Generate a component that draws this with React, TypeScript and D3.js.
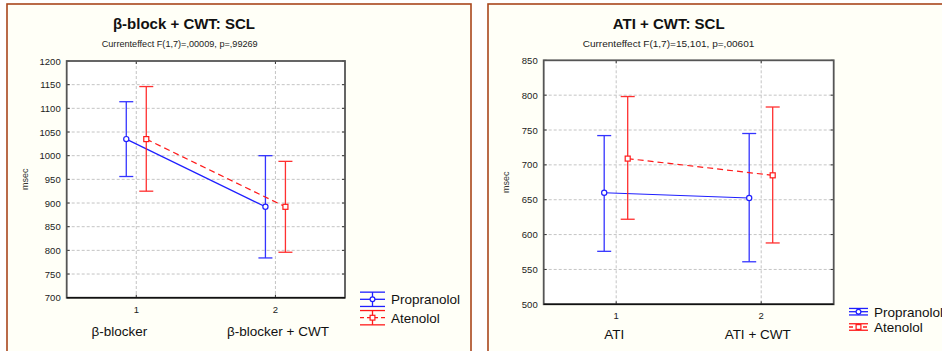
import * as d3 from 'd3';

// left chart: beta-blocker vs beta-blocker + CWT
const sclCategories = ['β-blocker', 'β-blocker + CWT'];
const sclPropMean = [1035, 892];
const sclPropLow = [956, 784];
const sclPropHigh = [1114, 1000];
const sclAtenMean = [1035, 892];
const sclAtenLow = [925, 796];
const sclAtenHigh = [1146, 988];

// right chart: ATI vs ATI + CWT
const atiCategories = ['ATI', 'ATI + CWT'];
const atiPropMean = [660, 652.5];
const atiPropLow = [576, 561];
const atiPropHigh = [742, 745];
const atiAtenMean = [709, 685];
const atiAtenLow = [622, 588];
const atiAtenHigh = [798, 783];

const seriesNames = ['Propranolol', 'Atenolol'];
const BLUE = '#1f1fff';
const RED = '#ff1a1a';
const FONT = 'Liberation Sans, Arial, sans-serif';

type Series = { mean: number[]; low: number[]; high: number[] };

type PanelProps = {
  box: [number, number, number]; // left, top, width of panel border
  plot: { x0: number; x1: number; y0: number; y1: number };
  yDomain: [number, number];
  title: string;
  titleX: number;
  subtitle: string;
  subtitleX: number;
  subtitleWidth: number;
  categories: string[];
  catShift: [number, number];
  prop: Series;
  aten: Series;
  offsets: [number, number];
  tickY: number;
  catY: number;
  yLabelX: number;
  legend: { x: number; y: number; gap: number; h: number; w: number };
};

const Panel = (p: PanelProps) => {
  const { x0, x1, y0, y1 } = p.plot;
  const x = d3.scaleLinear().domain([0.5, 2.5]).range([x0, x1]);
  const y = d3.scaleLinear().domain(p.yDomain).range([y1, y0]);
  const yTicks = d3.range(p.yDomain[0], p.yDomain[1] + 1, 50);
  const idx = [1, 2];
  const cap = 7;

  const drawSeries = (s: Series, color: string, off: number, square: boolean) => {
    const pts = s.mean.map((m, i) => [x(idx[i]) + off, y(m)] as [number, number]);
    return (
      <g>
        <path
          d={d3.line()(pts) || ''}
          fill="none"
          stroke={color}
          strokeWidth={1.2}
          strokeDasharray={square ? '6,4' : undefined}
        />
        {s.mean.map((m, i) => {
          const px = x(idx[i]) + off;
          return (
            <g key={i} stroke={color} strokeWidth={1.3} opacity={0.9}>
              <line x1={px} x2={px} y1={y(s.high[i])} y2={y(s.low[i])} />
              <line x1={px - cap} x2={px + cap} y1={y(s.high[i])} y2={y(s.high[i])} />
              <line x1={px - cap} x2={px + cap} y1={y(s.low[i])} y2={y(s.low[i])} />
            </g>
          );
        })}
        {s.mean.map((m, i) => {
          const px = x(idx[i]) + off;
          return square ? (
            <rect key={i} x={px - 2.5} y={y(m) - 2.5} width={5} height={5} fill="white" stroke={color} strokeWidth={1.2} />
          ) : (
            <circle key={i} cx={px} cy={y(m)} r={2.6} fill="white" stroke={color} strokeWidth={1.2} />
          );
        })}
      </g>
    );
  };

  const lg = p.legend;
  const legendItem = (k: number) => {
    const color = k === 0 ? BLUE : RED;
    const my = lg.y + k * lg.gap;
    const lx0 = lg.x;
    const lx1 = lg.x + lg.w;
    const mx = (lx0 + lx1) / 2;
    const half = lg.h / 2;
    return (
      <g key={k}>
        <g stroke={color} strokeWidth={1.3}>
          <line x1={lx0} x2={lx1} y1={my - half} y2={my - half} />
          <line x1={lx0} x2={lx1} y1={my + half} y2={my + half} />
          <line x1={mx} x2={mx} y1={my - half} y2={my + half} />
          <line x1={lx0} x2={lx1} y1={my} y2={my} strokeDasharray={k === 1 ? '4,3' : undefined} />
        </g>
        {k === 0 ? (
          <circle cx={mx} cy={my} r={2.4} fill="white" stroke={color} strokeWidth={1.2} />
        ) : (
          <rect x={mx - 2.4} y={my - 2.4} width={4.8} height={4.8} fill="white" stroke={color} strokeWidth={1.2} />
        )}
        <text x={lx1 + 6} y={my + 5} fontSize={13.5} fill="#111">
          {seriesNames[k]}
        </text>
      </g>
    );
  };

  return (
    <g fontFamily={FONT}>
      <rect x={p.box[0]} y={p.box[1]} width={p.box[2]} height={400} fill="#fffff7" stroke="#a9461c" strokeWidth={1.6} />
      <text x={p.titleX} y={29} fontSize={15} fontWeight="bold" textAnchor="middle" fill="#111">
        {p.title}
      </text>
      <text
        x={p.subtitleX}
        y={46.5}
        fontSize={9}
        textAnchor="middle"
        fill="#222"
        textLength={p.subtitleWidth}
        lengthAdjust="spacingAndGlyphs"
      >
        {p.subtitle}
      </text>
      <rect x={x0} y={y0} width={x1 - x0} height={y1 - y0} fill="white" />
      {yTicks.map((t) => (
        <g key={t}>
          {t !== p.yDomain[0] && t !== p.yDomain[1] && (
            <line x1={x0} x2={x1} y1={y(t)} y2={y(t)} stroke="#c4c4c4" strokeDasharray="3,2" />
          )}
          <line x1={x0} x2={x0 + 3} y1={y(t)} y2={y(t)} stroke="#333" />
          <line x1={x1 - 3} x2={x1} y1={y(t)} y2={y(t)} stroke="#333" />
          <text x={x0 - 6} y={y(t) + 3.5} fontSize={9.5} textAnchor="end" fill="#222">
            {t}
          </text>
        </g>
      ))}
      {idx.map((c, i) => (
        <g key={c}>
          <line x1={x(c)} x2={x(c)} y1={y0} y2={y1} stroke="#c4c4c4" strokeDasharray="3,2" />
          <line x1={x(c)} x2={x(c)} y1={y0} y2={y0 + 3} stroke="#333" />
          <line x1={x(c)} x2={x(c)} y1={y1 - 3} y2={y1} stroke="#333" />
          <text x={x(c)} y={p.tickY} fontSize={9.5} textAnchor="middle" fill="#222">
            {c}
          </text>
          <text x={x(c) + p.catShift[i]} y={p.catY} fontSize={13.5} textAnchor="middle" fill="#111">
            {p.categories[i]}
          </text>
        </g>
      ))}
      <rect x={x0} y={y0} width={x1 - x0} height={y1 - y0} fill="none" stroke="#555" strokeWidth={1.8} />
      <line x1={x0} x2={x1} y1={y1} y2={y1} stroke="#111" strokeWidth={1.5} />
      <text
        transform={`translate(${p.yLabelX},${(y0 + y1) / 2}) rotate(-90)`}
        fontSize={9}
        textAnchor="middle"
        fill="#333"
      >
        msec
      </text>
      {drawSeries(p.prop, BLUE, p.offsets[0], false)}
      {drawSeries(p.aten, RED, p.offsets[1], true)}
      {legendItem(0)}
      {legendItem(1)}
    </g>
  );
};

const App = () => {
  return (
    <svg width={942} height={351} style={{ position: 'absolute', left: 0, top: 0, background: 'white' }}>
      <Panel
        box={[7, 4, 464]}
        plot={{ x0: 66.7, x1: 345, y0: 61, y1: 297.7 }}
        yDomain={[700, 1200]}
        title="β-block + CWT: SCL"
        titleX={184}
        subtitle="Currenteffect F(1,7)=,00009, p=,99269"
        subtitleX={179.7}
        subtitleWidth={156}
        categories={sclCategories}
        catShift={[-17, 2.5]}
        prop={{ mean: sclPropMean, low: sclPropLow, high: sclPropHigh }}
        aten={{ mean: sclAtenMean, low: sclAtenLow, high: sclAtenHigh }}
        offsets={[-10, 10]}
        tickY={312.5}
        catY={335.5}
        yLabelX={28}
        legend={{ x: 360, y: 299.3, gap: 18.4, h: 14.3, w: 25 }}
      />
      <Panel
        box={[488, 4, 470]}
        plot={{ x0: 543.7, x1: 833.7, y0: 60.3, y1: 304.3 }}
        yDomain={[500, 850]}
        title="ATI + CWT: SCL"
        titleX={668.7}
        subtitle="Currenteffect F(1,7)=15,101, p=,00601"
        subtitleX={668.5}
        subtitleWidth={171.6}
        categories={atiCategories}
        catShift={[-2, -3.5]}
        prop={{ mean: atiPropMean, low: atiPropLow, high: atiPropHigh }}
        aten={{ mean: atiAtenMean, low: atiAtenLow, high: atiAtenHigh }}
        offsets={[-12, 11.5]}
        tickY={319}
        catY={338.5}
        yLabelX={509}
        legend={{ x: 849, y: 311.7, gap: 15.3, h: 6.5, w: 19 }}
      />
    </svg>
  );
};

export default App;
